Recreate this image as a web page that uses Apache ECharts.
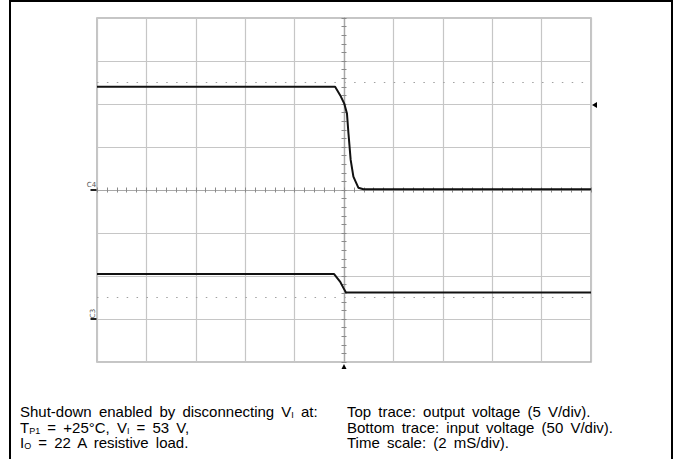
<!DOCTYPE html>
<html>
<head>
<meta charset="utf-8">
<script src="https://cdn.jsdelivr.net/npm/echarts@6/dist/echarts.min.js"></script>
<style>
html,body{margin:0;padding:0;background:#fff;}
#wrap{position:relative;width:681px;height:459px;overflow:hidden;background:#fff;}
#chart{position:absolute;left:0;top:0;width:681px;height:459px;}
#frame{position:absolute;left:9px;top:0;width:660px;height:480px;border:2px solid #000;pointer-events:none;}
.cap{position:absolute;font-family:"Liberation Sans",Arial,sans-serif;font-size:15px;line-height:15.5px;height:15.5px;color:#000;word-spacing:3px;white-space:nowrap;}
.cap sub{font-size:9px;vertical-align:-1px;line-height:0;word-spacing:0;}
</style>
</head>
<body>
<div id="wrap">
  <div id="chart"></div>
  <div id="frame"></div>
  <div class="cap" style="left:20px;top:404px;">Shut-down enabled by disconnecting V<sub>I</sub> at:</div>
  <div class="cap" style="left:20px;top:419.5px;">T<sub>P1</sub> = +25°C, V<sub>I</sub> = 53 V,</div>
  <div class="cap" style="left:20px;top:435px;">I<sub>O</sub> = 22 A resistive load.</div>
  <div class="cap" style="left:347px;top:404px;">Top trace: output voltage (5 V/div).</div>
  <div class="cap" style="left:347px;top:419.5px;">Bottom trace: input voltage (50 V/div).</div>
  <div class="cap" style="left:347px;top:435px;">Time scale: (2 mS/div).</div>
</div>
<script>
// Time in ms (2 ms/div, trigger at 0)
const outTime = [-10, -0.36, -0.15, 0.01, 0.12, 0.18, 0.27, 0.38, 0.58, 0.79, 10];
// Output voltage in V (5 V/div, ground at C4 marker)
const outVolt = [12.0, 12.0, 11.0, 10.05, 8.9, 6.6, 3.5, 1.55, 0.27, 0.08, 0.08];
const inTime = [-10, -0.40, -0.16, -0.02, 0.08, 10];
// Input voltage in V (50 V/div, ground at C3 marker)
const inVolt = [52.3, 52.3, 43.5, 35.9, 30.8, 30.8];
// Reference dotted levels (output axis units)
const refLevels = [12.5, -12.5];
// Channel markers
const chLabels = ['C4', 'C3'];
const chGround = [0, -15];
const trigLevel = 10;
const trigTime = 0;

const gridColor = '#c6c6c6';
const tickColor = '#8a8a8a';

const chart = echarts.init(document.getElementById('chart'), null, {renderer: 'svg'});

function centerX(inside) {
  return {
    type: 'value', min: -10, max: 10, interval: 0.4, position: 'bottom',
    axisLine: {show: true, onZero: true, onZeroAxisIndex: 0, lineStyle: {color: '#a8a8a8', width: 1.2}},
    axisTick: {show: true, inside: inside, length: 2.5, lineStyle: {color: tickColor, width: 1}},
    axisLabel: {show: false}, splitLine: {show: false}
  };
}
function centerY(inside) {
  return {
    type: 'value', min: -20, max: 20, interval: 1, position: 'left',
    axisLine: {show: true, onZero: true, onZeroAxisIndex: 0, lineStyle: {color: '#a8a8a8', width: 1.2}},
    axisTick: {show: true, inside: inside, length: 2.5, lineStyle: {color: tickColor, width: 1}},
    axisLabel: {show: false}, splitLine: {show: false}
  };
}

const markData = [
  {coord: [-10, chGround[0]], symbol: 'rect', symbolSize: [6, 2], symbolOffset: [-3.5, 0],
   itemStyle: {color: '#222'},
   label: {show: true, formatter: chLabels[0], position: 'top', distance: 1, offset: [-2, 0], fontSize: 7, color: '#555', fontFamily: 'DejaVu Sans'}},
  {coord: [-10, chGround[1]], symbol: 'rect', symbolSize: [6, 2], symbolOffset: [-3.5, 0],
   itemStyle: {color: '#222'}, label: {show: false}},
  {coord: [-10, chGround[1]], symbol: 'rect', symbolSize: [1, 1], symbolOffset: [-4.5, -5.5],
   itemStyle: {color: 'rgba(0,0,0,0)'},
   label: {show: true, formatter: chLabels[1], position: 'inside', rotate: 90, fontSize: 7, color: '#555', fontFamily: 'DejaVu Sans'}},
  {coord: [10, trigLevel], symbol: 'triangle', symbolSize: [6, 5], symbolRotate: 90, symbolOffset: [3.5, 1],
   itemStyle: {color: '#000'}, label: {show: false}},
  {coord: [trigTime, -20], symbol: 'triangle', symbolSize: [5, 5], symbolOffset: [0, 4.5],
   itemStyle: {color: '#000'}, label: {show: false}}
];

chart.setOption({
  animation: false,
  backgroundColor: '#fff',
  grid: {left: 97, right: 90, top: 18, bottom: 97, show: true, borderColor: '#b2b2b2', borderWidth: 1.5},
  xAxis: [
    {type: 'value', min: -10, max: 10, interval: 2,
     splitLine: {show: true, lineStyle: {color: gridColor, width: 1.2}},
     axisLine: {show: false}, axisTick: {show: false}, axisLabel: {show: false}},
    centerX(true),
    centerX(false)
  ],
  yAxis: [
    {type: 'value', min: -20, max: 20, interval: 5,
     splitLine: {show: true, lineStyle: {color: gridColor, width: 1.2}},
     axisLine: {show: false}, axisTick: {show: false}, axisLabel: {show: false}},
    {type: 'value', min: -50, max: 350, interval: 50, show: false},
    centerY(true),
    centerY(false)
  ],
  series: [
    {
      name: 'Output voltage', type: 'line', xAxisIndex: 0, yAxisIndex: 0,
      data: outTime.map((t, i) => [t, outVolt[i]]),
      showSymbol: false, symbol: 'none', z: 5,
      lineStyle: {color: '#111', width: 2},
      markLine: {
        silent: true, symbol: 'none', label: {show: false},
        lineStyle: {color: '#a0a0a0', width: 1.2, type: [1.5, 8.39]},
        data: refLevels.map(v => ({yAxis: v}))
      },
      markPoint: {silent: true, data: markData}
    },
    {
      name: 'Input voltage', type: 'line', xAxisIndex: 0, yAxisIndex: 1,
      data: inTime.map((t, i) => [t, inVolt[i]]),
      showSymbol: false, symbol: 'none', z: 5,
      lineStyle: {color: '#111', width: 2}
    }
  ]
});
</script>
</body>
</html>
